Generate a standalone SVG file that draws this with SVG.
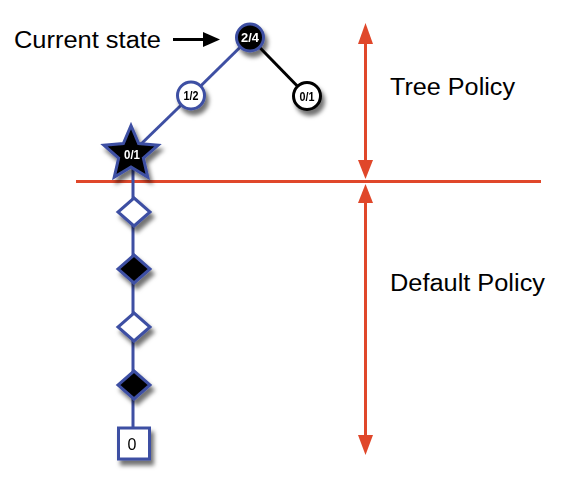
<svg xmlns="http://www.w3.org/2000/svg" width="563" height="489" viewBox="0 0 563 489">
  <defs>
    <filter id="sh" x="-50%" y="-50%" width="200%" height="200%">
      <feDropShadow dx="3" dy="5" stdDeviation="2.2" flood-color="#000" flood-opacity="0.55"/>
    </filter>
  </defs>
  <style>
    .blue { stroke: #3e4fa3; stroke-width: 3; fill: none; }
    .blk { stroke: #000; stroke-width: 3; fill: none; }
    .red { stroke: #e0472a; stroke-width: 3; fill: none; }
    .redfill { fill: #e0472a; }
    .big { font-family: "Liberation Sans", Arial, sans-serif; font-size: 23.5px; fill: #000; }
    .lbl { font-family: "Liberation Sans", Arial, sans-serif; font-size: 13px; font-weight: bold; text-anchor: middle; }
    .wl { fill: #fff; }
    .bl { fill: #000; }
    .nodeB { fill: #000; stroke: #3e4fa3; stroke-width: 3; }
    .nodeW { fill: #fff; stroke: #3e4fa3; stroke-width: 3; }
  </style>

  <rect width="563" height="489" fill="#fff"/>

  <!-- policy separators -->
  <g id="policy-lines">
    <line class="red" x1="76" y1="181.5" x2="541" y2="181.5"/>
    <line class="red" x1="365.5" y1="42" x2="365.5" y2="162"/>
    <path class="redfill" d="M365.5,23 L373,44 L358,44 Z"/>
    <path class="redfill" d="M365.5,179 L373,160 L358,160 Z"/>
    <line class="red" x1="365.5" y1="202" x2="365.5" y2="437"/>
    <path class="redfill" d="M365.5,184 L373,203 L358,203 Z"/>
    <path class="redfill" d="M365.5,455 L373,435 L358,435 Z"/>
  </g>

  <!-- connectors -->
  <g id="connectors">
    <line class="blue" x1="250" y1="37.5" x2="191" y2="95.5"/>
    <line class="blue" x1="191" y1="95.5" x2="139" y2="146"/>
    <line class="blk" x1="250" y1="37.5" x2="307" y2="96"/>
    <line class="blue" x1="133" y1="165" x2="133" y2="428"/>
    <line x1="173" y1="39.5" x2="205" y2="39.5" stroke="#000" stroke-width="3"/>
    <path d="M203,32 L220,39.5 L203,47 Z" fill="#000"/>
  </g>

  <!-- labels -->
  <g id="labels">
    <text class="big" x="14" y="47.5" textLength="147" lengthAdjust="spacingAndGlyphs">Current state</text>
    <text class="big" x="390" y="95" textLength="125" lengthAdjust="spacingAndGlyphs">Tree Policy</text>
    <text class="big" x="390" y="291" textLength="155" lengthAdjust="spacingAndGlyphs">Default Policy</text>
  </g>

  <g id="n-root" filter="url(#sh)">
    <circle class="nodeB" cx="250" cy="37.5" r="13.5"/>
    <text class="lbl wl" x="250" y="42" textLength="18" lengthAdjust="spacingAndGlyphs">2/4</text>
  </g>
  <g id="n-left" filter="url(#sh)">
    <circle class="nodeW" cx="191" cy="95.5" r="13.5"/>
    <text class="lbl bl" x="191" y="100" textLength="15" lengthAdjust="spacingAndGlyphs">1/2</text>
  </g>
  <g id="n-right" filter="url(#sh)">
    <circle cx="307" cy="96" r="13.5" fill="#fff" stroke="#000" stroke-width="3"/>
    <text class="lbl bl" x="307" y="100.5" textLength="15" lengthAdjust="spacingAndGlyphs">0/1</text>
  </g>
  <g id="n-star" filter="url(#sh)">
    <polygon class="nodeB" points="131,125.5 138.64,143.48 158.11,145.19 143.36,158.02 147.75,177.06 131,167 114.25,177.06 118.64,158.02 103.89,145.19 123.36,143.48"/>
    <text class="lbl wl" x="132" y="159" textLength="16" lengthAdjust="spacingAndGlyphs">0/1</text>
  </g>
  <g id="d1" filter="url(#sh)">
    <polygon class="nodeW" points="134,198 150,212 134,226 118,212"/>
  </g>
  <g id="d2" filter="url(#sh)">
    <polygon class="nodeB" points="134,255 150,269 134,283 118,269"/>
  </g>
  <g id="d3" filter="url(#sh)">
    <polygon class="nodeW" points="134,313 150,327 134,341 118,327"/>
  </g>
  <g id="d4" filter="url(#sh)">
    <polygon class="nodeB" points="134,371 150,385 134,399 118,385"/>
  </g>
  <g id="terminal" filter="url(#sh)">
    <rect class="nodeW" x="118.5" y="428" width="31" height="31"/>
    <text x="132" y="450" font-family="'Liberation Sans', Arial, sans-serif" font-size="16px" text-anchor="middle" fill="#000">0</text>
  </g>
</svg>
